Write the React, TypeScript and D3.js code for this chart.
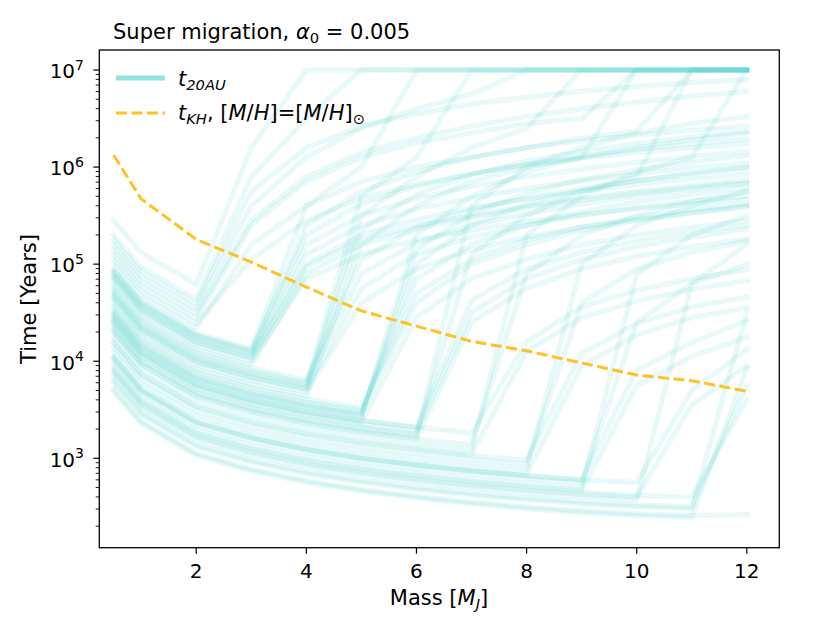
import React from 'react';
import * as d3 from 'd3';

// Planet masses [M_J] at which every model was evaluated
const masses = [0.5, 1, 2, 3, 4, 5, 6, 7, 8, 9, 10, 11, 12];

// log10(t_20AU / yr) for each model, grouped by the mass at which the curve jumps up
const jumpAt3 = [
  [5.45, 5.12, 4.79, 6.2, 7, 7, 7, 7, 7, 7, 7, 7, 7],
  [5.3, 4.97, 4.64, 5.9, 6.5, 7, 7, 7, 7, 7, 7, 7, 7],
  [5.2, 4.87, 4.54, 5.6, 6.1, 6.4, 6.6, 6.75, 7, 7, 7, 7, 7],
  [5.1, 4.77, 4.44, 5.4, 5.85, 6.1, 6.25, 6.35, 6.45, 6.5, 7, 7, 7],
  [5.0, 4.67, 4.34, 5.2, 5.6, 5.85, 6.0, 6.1, 6.2, 6.27, 6.33, 6.38, 6.42],
  [5.15, 4.82, 4.49, 5.45, 5.9, 6.15, 6.3, 6.42, 6.52, 6.6, 6.67, 6.73, 6.78],
  [5.05, 4.72, 4.39, 5.05, 5.45, 5.68, 5.82, 5.93, 6.02, 6.09, 6.15, 6.2, 6.24],
  [5.25, 4.92, 4.59, 5.75, 6.2, 6.42, 6.55, 6.65, 6.72, 6.78, 6.83, 6.87, 6.9],
];
const jumpAt4 = [
  [4.85, 4.52, 4.19, 4.03, 4.97, 5.25, 5.4, 5.5, 5.6, 5.68, 5.75, 5.81, 5.87],
  [4.88, 4.55, 4.22, 4.06, 5.1, 5.4, 5.57, 5.68, 5.78, 5.86, 5.93, 5.99, 6.04],
  [4.82, 4.49, 4.16, 4.0, 4.85, 5.1, 5.25, 5.35, 5.44, 5.51, 5.57, 5.62, 5.67],
  [4.92, 4.59, 4.26, 4.1, 5.4, 5.75, 5.95, 6.1, 6.2, 6.3, 6.37, 7, 7],
  [4.95, 4.62, 4.29, 4.13, 5.6, 6.0, 7, 7, 7, 7, 7, 7, 7],
  [4.78, 4.45, 4.12, 3.96, 4.9, 5.2, 5.36, 5.48, 5.58, 5.66, 5.73, 5.79, 5.84],
  [4.86, 4.53, 4.2, 4.04, 5.0, 5.3, 5.46, 5.58, 5.67, 5.75, 5.82, 5.88, 5.93],
  [4.9, 4.57, 4.24, 4.08, 5.2, 5.5, 5.68, 5.8, 5.9, 5.98, 6.05, 6.11, 6.16],
  [4.93, 4.6, 4.27, 4.11, 5.3, 5.62, 5.8, 5.93, 6.03, 6.11, 6.18, 6.24, 6.29],
];
const jumpAt5 = [
  [4.72, 4.39, 4.06, 3.9, 3.78, 4.9, 5.22, 5.4, 5.52, 5.62, 5.7, 5.77, 5.83],
  [4.65, 4.32, 3.99, 3.83, 3.71, 4.75, 5.1, 5.28, 5.4, 5.5, 5.58, 5.65, 5.7],
  [4.58, 4.25, 3.92, 3.76, 3.64, 5.2, 5.6, 5.85, 6.0, 6.1, 6.2, 6.28, 6.35],
  [4.68, 4.35, 4.02, 3.86, 3.74, 5.5, 5.9, 6.2, 6.4, 7, 7, 7, 7],
  [4.62, 4.29, 3.96, 3.8, 3.68, 4.6, 4.95, 5.15, 5.28, 5.38, 5.46, 5.53, 5.59],
  [4.7, 4.37, 4.04, 3.88, 3.76, 5.7, 6.1, 7, 7, 7, 7, 7, 7],
  [4.75, 4.42, 4.09, 3.93, 3.81, 5.05, 5.38, 5.56, 5.68, 5.78, 5.86, 5.93, 5.99],
  [4.66, 4.33, 4.0, 3.84, 3.72, 5.35, 5.72, 5.92, 6.06, 6.16, 6.24, 6.31, 6.37],
];
const jumpAt6 = [
  [4.5, 4.17, 3.84, 3.68, 3.56, 3.47, 4.6, 5.0, 5.2, 5.35, 5.45, 5.53, 5.6],
  [4.45, 4.12, 3.79, 3.63, 3.51, 3.42, 5.3, 5.7, 5.95, 6.1, 7, 7, 7],
  [4.4, 4.07, 3.74, 3.58, 3.46, 3.37, 4.45, 4.85, 5.05, 5.2, 5.3, 5.38, 5.45],
  [4.55, 4.22, 3.89, 3.73, 3.61, 3.52, 4.7, 5.05, 5.25, 5.38, 5.48, 5.56, 5.62],
  [4.48, 4.15, 3.82, 3.66, 3.54, 3.45, 5.0, 5.4, 5.62, 5.76, 5.86, 5.94, 6.0],
  [4.52, 4.19, 3.86, 3.7, 3.58, 3.49, 4.85, 5.2, 5.4, 5.54, 5.64, 5.72, 5.79],
  [4.47, 4.14, 3.81, 3.65, 3.53, 3.44, 5.15, 5.52, 5.73, 5.87, 5.97, 6.05, 6.12],
];
const jumpAt7 = [
  [4.42, 4.09, 3.76, 3.6, 3.48, 3.39, 3.32, 4.63, 4.95, 5.12, 5.24, 5.33, 5.4],
  [4.35, 4.02, 3.69, 3.53, 3.41, 3.32, 3.25, 5.1, 5.5, 5.75, 5.9, 7, 7],
  [4.3, 3.97, 3.64, 3.48, 3.36, 3.27, 3.2, 4.4, 4.75, 4.95, 5.08, 5.18, 5.26],
  [4.38, 4.05, 3.72, 3.56, 3.44, 3.35, 3.28, 4.5, 4.85, 5.05, 5.18, 5.28, 5.36],
  [4.33, 4.0, 3.67, 3.51, 3.39, 3.3, 3.23, 5.6, 6.0, 6.2, 6.35, 6.45, 6.52],
];
const jumpAt8 = [
  [4.42, 4.09, 3.76, 3.6, 3.48, 3.39, 3.32, 3.26, 4.2, 4.56, 4.73, 4.85, 4.94],
  [4.25, 3.92, 3.59, 3.43, 3.31, 3.22, 3.15, 3.09, 5.3, 5.7, 5.95, 6.1, 7],
  [4.2, 3.87, 3.54, 3.38, 3.26, 3.17, 3.1, 3.04, 4.1, 4.45, 4.62, 4.74, 4.83],
  [4.3, 3.97, 3.64, 3.48, 3.36, 3.27, 3.2, 3.14, 4.9, 5.3, 5.5, 5.65, 5.75],
];
const jumpAt9 = [
  [4.19, 3.86, 3.53, 3.37, 3.25, 3.16, 3.09, 3.03, 2.98, 4.08, 4.39, 4.56, 4.66],
  [4.1, 3.77, 3.44, 3.28, 3.16, 3.07, 3.0, 2.94, 2.89, 5.0, 5.4, 5.6, 5.75],
  [4.05, 3.72, 3.39, 3.23, 3.11, 3.02, 2.95, 2.89, 2.84, 3.95, 4.27, 4.45, 4.55],
  [4.15, 3.82, 3.49, 3.33, 3.21, 3.12, 3.05, 2.99, 2.94, 4.6, 4.95, 5.12, 5.24],
];
const jumpAt10 = [
  [4.03, 3.7, 3.37, 3.21, 3.09, 3.0, 2.93, 2.87, 2.82, 2.78, 3.91, 4.19, 4.42],
  [3.95, 3.62, 3.29, 3.13, 3.01, 2.92, 2.85, 2.79, 2.74, 2.7, 4.9, 5.3, 5.5],
  [3.92, 3.59, 3.26, 3.1, 2.98, 2.89, 2.82, 2.76, 2.71, 2.67, 3.75, 4.05, 4.25],
  [4.0, 3.67, 3.34, 3.18, 3.06, 2.97, 2.9, 2.84, 2.79, 2.75, 4.4, 4.8, 5.0],
];
const jumpAt11 = [
  [4.03, 3.7, 3.37, 3.21, 3.09, 3.0, 2.93, 2.87, 2.82, 2.78, 2.75, 3.7, 4.12],
  [3.85, 3.52, 3.19, 3.03, 2.91, 2.82, 2.75, 2.69, 2.64, 2.6, 2.57, 4.8, 5.2],
  [3.88, 3.55, 3.22, 3.06, 2.94, 2.85, 2.78, 2.72, 2.67, 2.63, 2.6, 3.55, 3.95],
];
const jumpAt12 = [
  [3.69, 3.36, 3.03, 2.87, 2.75, 2.66, 2.59, 2.53, 2.48, 2.44, 2.41, 2.39, 3.93],
  [3.78, 3.45, 3.12, 2.96, 2.84, 2.75, 2.68, 2.62, 2.57, 2.53, 2.5, 2.48, 4.5],
  [3.8, 3.47, 3.14, 2.98, 2.86, 2.77, 2.7, 2.64, 2.59, 2.55, 2.52, 2.5, 3.75],
  [3.9, 3.57, 3.24, 3.08, 2.96, 2.87, 2.8, 2.74, 2.69, 2.65, 2.62, 2.6, 3.6],
];
const noJump = [
  [3.71, 3.38, 3.05, 2.89, 2.77, 2.68, 2.61, 2.55, 2.5, 2.46, 2.43, 2.41, 2.42],
];

// Kelvin-Helmholtz time at solar metallicity [yr]
const tKH = [1.33e6, 4.7e5, 1.8e5, 1.05e5, 5.8e4, 3.3e4, 2.3e4, 1.6e4, 1.28e4, 9.6e3, 7.2e3, 6.3e3, 4.9e3];

const xTicks = [2, 4, 6, 8, 10, 12];
const yDecades = [3, 4, 5, 6, 7];

const FONT = "'DejaVu Sans', sans-serif";
const CYAN = '#48D1CC';
const GOLD = '#FFC125';

export default function App() {
  const W = 830, H = 623;
  const L = 99.3, R = 779.3, T = 50, B = 547.7;
  const x = d3.scaleLinear().domain([0.24, 12.59]).range([L, R]);
  const y = d3.scaleLog().domain([Math.pow(10, 2.079), Math.pow(10, 7.206)]).range([B, T]);

  const allLines = [
    ...jumpAt3, ...jumpAt4, ...jumpAt5, ...jumpAt6, ...jumpAt7, ...jumpAt8,
    ...jumpAt9, ...jumpAt10, ...jumpAt11, ...jumpAt12, ...noJump,
  ];
  const lineGen = d3.line<number>().x((_, i) => x(masses[i])).y((d) => y(d));
  const logLine = (arr: number[]) => lineGen(arr.map((v) => Math.pow(10, v))) || '';

  const [ylo, yhi] = y.domain();
  const minor: number[] = [];
  for (let k = 2; k <= 7; k++) {
    for (let m = 2; m <= 9; m++) {
      const v = m * Math.pow(10, k);
      if (v >= ylo && v <= yhi) minor.push(v);
    }
  }

  return (
    <svg width={W} height={H} style={{ position: 'absolute', left: 0, top: 0, background: '#fff' }}
      fontFamily={FONT}>
      <rect x={0} y={0} width={W} height={H} fill="#fff" />
      <defs>
        <clipPath id="plot">
          <rect x={L} y={T} width={R - L} height={B - T} />
        </clipPath>
      </defs>
      <g clipPath="url(#plot)">
        {allLines.map((ln, i) => (
          <path key={i} d={logLine(ln)} fill="none" stroke={CYAN} strokeOpacity={0.13}
            strokeWidth={5} strokeLinejoin="round" strokeLinecap="square" />
        ))}
        <path d={lineGen(tKH) || ''} fill="none" stroke={GOLD} strokeWidth={3}
          strokeDasharray="11 4.5" />
      </g>

      {/* frame */}
      <rect x={L} y={T} width={R - L} height={B - T} fill="none" stroke="#000" strokeWidth={1.3} />

      {/* x ticks */}
      {xTicks.map((t) => (
        <g key={t}>
          <line x1={x(t)} x2={x(t)} y1={B} y2={B + 6} stroke="#000" strokeWidth={1.2} />
          <text x={x(t)} y={577.5} textAnchor="middle" fontSize={20}>{t}</text>
        </g>
      ))}

      {/* y ticks */}
      {minor.map((v, i) => (
        <line key={i} x1={L - 3.6} x2={L} y1={y(v)} y2={y(v)} stroke="#000" strokeWidth={0.9} />
      ))}
      {yDecades.map((k) => (
        <g key={k}>
          <line x1={L - 6} x2={L} y1={y(Math.pow(10, k))} y2={y(Math.pow(10, k))} stroke="#000" strokeWidth={1.2} />
          <text x={84} y={y(Math.pow(10, k)) + 8.3} textAnchor="end" fontSize={20}>
            10<tspan fontSize={14} dy={-8.3}>{k}</tspan>
          </text>
        </g>
      ))}

      {/* labels */}
      <text x={439} y={605} textAnchor="middle" fontSize={21}>
        Mass [<tspan fontStyle="italic">M</tspan>
        <tspan fontStyle="italic" fontSize={14.7} dy={4}>J</tspan>
        <tspan dy={-4}>]</tspan>
      </text>
      <text transform="translate(36,299) rotate(-90)" textAnchor="middle" fontSize={21}>Time [Years]</text>

      <text x={113} y={39.3} fontSize={21}>
        Super migration, <tspan fontStyle="italic">α</tspan>
        <tspan fontSize={14.7} dy={4}>0</tspan>
        <tspan dy={-4}> = 0.005</tspan>
      </text>

      {/* legend */}
      <line x1={116} x2={165} y1={78} y2={78} stroke={CYAN} strokeOpacity={0.6} strokeWidth={5} />
      <text x={178} y={86} fontSize={21}>
        <tspan fontStyle="italic">t</tspan>
        <tspan fontStyle="italic" fontSize={14.7} dy={4}>20AU</tspan>
      </text>
      <line x1={116} x2={165} y1={113} y2={113} stroke={GOLD} strokeWidth={3} strokeDasharray="11 4.5" />
      <text x={178} y={120} fontSize={21}>
        <tspan fontStyle="italic">t</tspan>
        <tspan fontStyle="italic" fontSize={14.7} dy={4}>KH</tspan>
        <tspan dy={-4}>, [</tspan>
        <tspan fontStyle="italic">M</tspan>/<tspan fontStyle="italic">H</tspan>]=[<tspan fontStyle="italic">M</tspan>/<tspan fontStyle="italic">H</tspan>]
        <tspan fontSize={14.7} dy={4}>⊙</tspan>
      </text>
    </svg>
  );
}
